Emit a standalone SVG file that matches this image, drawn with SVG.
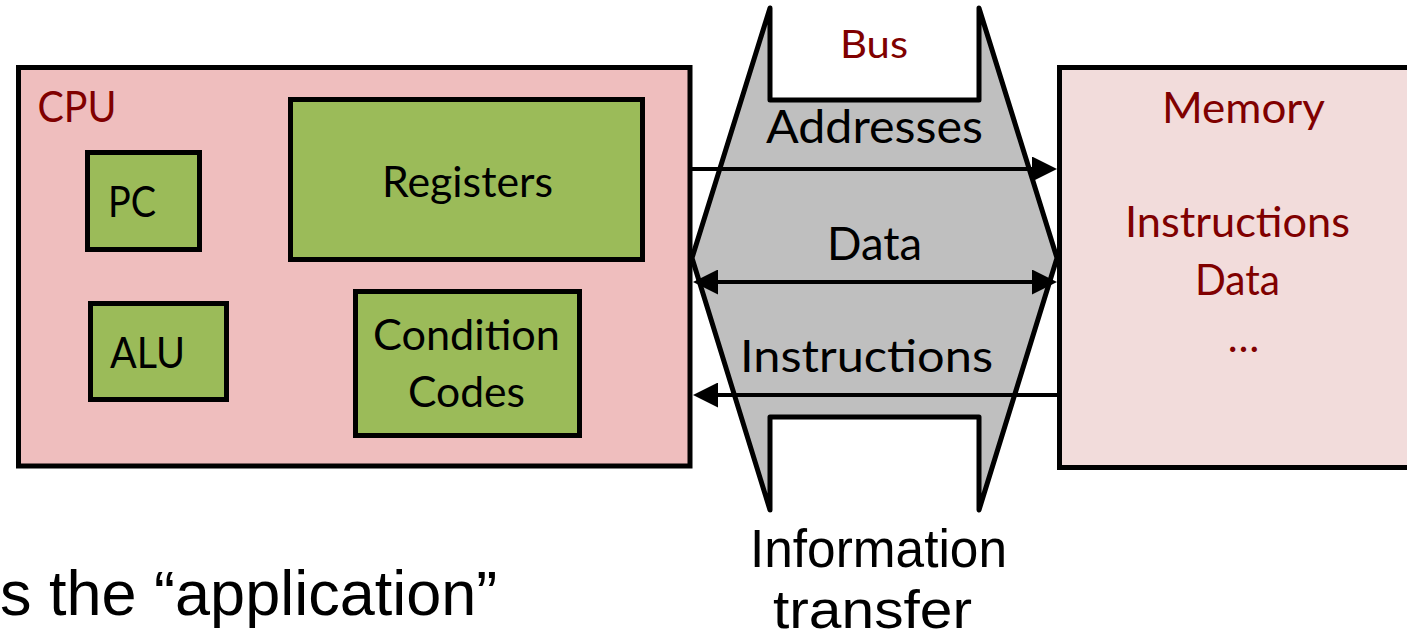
<svg xmlns="http://www.w3.org/2000/svg" width="1407" height="633" viewBox="0 0 1407 633">
<style>
.box{stroke:#000;stroke-width:5}
.cpu{fill:#EFBEBE}
.mem{fill:#F2DCDB}
.grn{fill:#9BBB59}
.t{font-family:Lato,"Open Sans",sans-serif;text-anchor:middle}
.k{fill:#000}
.r{fill:#800000}
.a{font-family:"Liberation Sans",Arial,sans-serif;fill:#000}
.ln{stroke:#000;stroke-width:4;fill:none}
</style>
<defs>
<marker id="ah" viewBox="0 0 25 25" refX="15" refY="12.5" markerWidth="25" markerHeight="25" markerUnits="userSpaceOnUse" orient="auto-start-reverse">
<path d="M0,0 L25,12.5 L0,25 Z" fill="#000"/>
</marker>
</defs>
<rect width="1407" height="633" fill="#fff"/>
<g id="cpu">
<rect class="box cpu" x="18.5" y="67.5" width="671.5" height="398.5"/>
<text class="t r" x="77" y="122" font-size="42" textLength="79" lengthAdjust="spacingAndGlyphs">CPU</text>
</g>
<g id="pc">
<rect class="box grn" x="87.5" y="152.5" width="112" height="97"/>
<text class="t k" x="132" y="217" font-size="42" textLength="48" lengthAdjust="spacingAndGlyphs">PC</text>
</g>
<g id="alu">
<rect class="box grn" x="90.5" y="303.5" width="136" height="96"/>
<text class="t k" x="147.5" y="368" font-size="42" textLength="75" lengthAdjust="spacingAndGlyphs">ALU</text>
</g>
<g id="registers">
<rect class="box grn" x="290.5" y="99.5" width="352" height="160"/>
<text class="t k" x="467.5" y="197" font-size="42" textLength="171" lengthAdjust="spacingAndGlyphs">Registers</text>
</g>
<g id="condition-codes">
<rect class="box grn" x="355.5" y="291.5" width="224" height="144"/>
<text class="t k" x="466.5" y="350" font-size="42" textLength="187" lengthAdjust="spacingAndGlyphs">Condition</text>
<text class="t k" x="466.5" y="407" font-size="42" textLength="117" lengthAdjust="spacingAndGlyphs">Codes</text>
</g>
<g id="memory">
<rect class="box mem" x="1059.5" y="67.5" width="400" height="400"/>
<text class="t r" x="1243.5" y="123" font-size="42" textLength="163" lengthAdjust="spacingAndGlyphs">Memory</text>
<text class="t r" x="1237.5" y="237" font-size="42" textLength="225" lengthAdjust="spacingAndGlyphs">Instructions</text>
<text class="t r" x="1237.5" y="295" font-size="42" textLength="85" lengthAdjust="spacingAndGlyphs">Data</text>
<text class="t r" x="1243.5" y="352" font-size="42">…</text>
</g>
<g id="bus">
<path d="M770,8 L770,100 L979,100 L979,8 L1057,258 L979,510 L979,417 L770,417 L770,510 L692,258 Z" fill="#BFBFBF" stroke="#000" stroke-width="5" stroke-linejoin="round"/>
<text class="t r" x="874" y="58" font-size="39" textLength="68" lengthAdjust="spacingAndGlyphs">Bus</text>
<text class="t k" x="874.5" y="143" font-size="46" textLength="217" lengthAdjust="spacingAndGlyphs">Addresses</text>
<text class="t k" x="874.5" y="260" font-size="46" textLength="95" lengthAdjust="spacingAndGlyphs">Data</text>
<text class="t k" x="866.5" y="372" font-size="45" textLength="253" lengthAdjust="spacingAndGlyphs">Instructions</text>
</g>
<g id="connectors">
<line class="ln" x1="692" y1="169" x2="1047" y2="169" marker-end="url(#ah)"/>
<line class="ln" x1="703" y1="282" x2="1047" y2="282" marker-start="url(#ah)" marker-end="url(#ah)"/>
<line class="ln" x1="1057" y1="395" x2="703" y2="395" marker-end="url(#ah)"/>
</g>
<g id="labels">
<text class="a" x="878.5" y="567" font-size="54" text-anchor="middle" textLength="257" lengthAdjust="spacingAndGlyphs">Information</text>
<text class="a" x="872.5" y="628" font-size="54" text-anchor="middle" textLength="199" lengthAdjust="spacingAndGlyphs">transfer</text>
<text class="a" x="0" y="615" font-size="63">s the “application”</text>
</g>
</svg>
